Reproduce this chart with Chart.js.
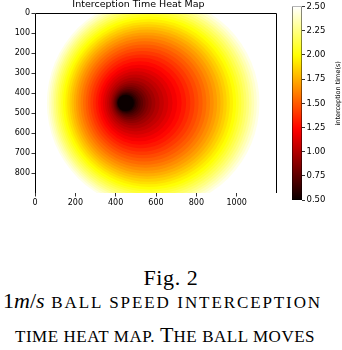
<!DOCTYPE html>
<html lang="en">
<head>
    <meta charset="UTF-8">
    <title>Interception Time Heat Map</title>
    <script src="https://cdn.jsdelivr.net/npm/chart.js"></script>
    <style>
        body { margin: 0; background: #fff; overflow: hidden; }
        #wrap { position: relative; width: 342px; height: 350px; }
        #heat { position: absolute; left: 0; top: 0; }
        #cbar { position: absolute; left: 285px; top: 0; }
        .cap { position: absolute; font-family: "Liberation Serif", serif; font-size: 22px; line-height: 22px;
               white-space: nowrap; color: #000; }
        .fig { left: 0; width: 342px; text-align: center; letter-spacing: 0.6px; }
        .sc { font-size: 17px; text-transform: uppercase; text-align: justify; text-align-last: justify; }
        .sc .big { font-size: 22px; letter-spacing: 0; }
    </style>
</head>
<body>
<div id="wrap">
    <canvas id="heat" width="342" height="210"></canvas>
    <canvas id="cbar" width="57" height="210"></canvas>
    <div class="cap fig" style="top:267px">Fig. 2</div>
    <div class="cap sc" style="top:290px; left:3px; width:319px; letter-spacing:1.9px"><span class="big">1<i style="text-transform:none">m</i>/<i style="text-transform:none">s</i></span> ball speed interception</div>
    <div class="cap sc" style="top:324px; left:15px; width:300px; letter-spacing:0.5px">time heat map. <span class="big">T</span>he ball moves</div>
</div>

<script>
    // contour levels (s), each one a circle: centre and radius in field units
    const times = [2.50, 2.45, 2.40, 2.35, 2.30, 2.25, 2.20, 2.15, 2.10, 2.05, 2.00,
                   1.95, 1.90, 1.85, 1.80, 1.75, 1.70, 1.65, 1.60, 1.55, 1.50,
                   1.45, 1.40, 1.35, 1.30, 1.25, 1.20, 1.15, 1.10, 1.05, 1.00,
                   0.95, 0.90, 0.85, 0.80, 0.75, 0.70, 0.65, 0.60, 0.55, 0.50];
    const centerX = [588, 586, 584, 582, 580, 578, 576, 574, 572, 570, 568,
                     566, 563, 561, 558, 556, 553, 550, 547, 544, 541,
                     537, 533, 529, 525, 520, 515, 509, 504, 498, 492,
                     486, 480, 475, 470, 466, 462, 458, 455, 452, 450];
    const centerY = [450, 450, 450, 450, 450, 450, 450, 450, 450, 450, 450,
                     450, 450, 450, 450, 450, 450, 450, 450, 450, 450,
                     450, 450, 450, 450, 450, 450, 450, 450, 450, 450,
                     450, 450, 450, 450, 450, 450, 450, 450, 450, 450];
    const radius = [538, 527, 516, 505, 494, 484, 473, 462, 451, 440, 429,
                    416, 403, 390, 377, 364, 350, 336, 321, 306, 290,
                    274, 258, 241, 224, 207, 190, 173, 157, 141, 126,
                    111, 99, 88, 79, 70, 62, 55, 49, 44, 40];
    const xTicks = [0, 200, 400, 600, 800, 1000];
    const yTicks = [0, 100, 200, 300, 400, 500, 600, 700, 800];
    const cbTicks = [0.5, 0.75, 1.0, 1.25, 1.5, 1.75, 2.0, 2.25, 2.5];

    // matplotlib 'hot', vmin 0.5 .. vmax 2.5
    function hot(v) {
        const f = Math.min(1, Math.max(0, (v - 0.5) / 2));
        const r = Math.min(1, 0.0416 + 0.9584 * f / 0.365079);
        const g = Math.min(1, Math.max(0, (f - 0.365079) / 0.380953));
        const b = Math.min(1, Math.max(0, (f - 0.746032) / 0.253968));
        return `rgb(${Math.round(r * 255)},${Math.round(g * 255)},${Math.round(b * 255)})`;
    }

    const font = { family: 'DejaVu Sans', size: 8 };

    const spines = {
        id: 'spines',
        afterDraw(chart) {
            const { ctx, chartArea: a } = chart;
            ctx.save();
            ctx.strokeStyle = '#000';
            ctx.lineWidth = 1;
            ctx.beginPath();
            ctx.moveTo(a.left + 0.5, a.bottom);
            ctx.lineTo(a.left + 0.5, a.top + 0.5);
            ctx.lineTo(a.right - 0.5, a.top + 0.5);
            ctx.lineTo(a.right - 0.5, a.bottom);
            ctx.stroke();
            ctx.restore();
        }
    };

    new Chart(document.getElementById('heat'), {
        type: 'scatter',
        data: {
            datasets: [{
                data: times.map((t, i) => ({ x: centerX[i], y: centerY[i], rad: radius[i] })),
                pointRadius: c => {
                    const xs = c.chart.scales.x;
                    return Math.abs(xs.getPixelForValue(c.raw.rad) - xs.getPixelForValue(0));
                },
                pointBackgroundColor: c => hot(times[c.dataIndex]),
                pointBorderWidth: 0,
                pointBorderColor: 'rgba(0,0,0,0)',
                clip: 0
            }]
        },
        options: {
            responsive: false,
            animation: false,
            events: [],
            layout: { padding: { top: 0, right: 65, bottom: 0, left: 0 } },
            plugins: {
                legend: { display: false },
                tooltip: { enabled: false },
                title: {
                    display: true,
                    text: 'Interception Time Heat Map',
                    color: '#000',
                    font: { family: 'DejaVu Sans', size: 9.5, weight: 'normal' },
                    padding: { top: -1.5, bottom: 3.1 }
                }
            },
            scales: {
                x: {
                    type: 'linear', min: 0, max: 1200,
                    afterBuildTicks: s => { s.ticks = xTicks.map(v => ({ value: v })); },
                    afterFit: s => { s.height = 17; },
                    border: { display: false },
                    grid: { drawOnChartArea: false, tickLength: 3.5, color: '#000', lineWidth: 0.8 },
                    ticks: { color: '#000', font, padding: 1.5, maxRotation: 0, callback: v => String(v) }
                },
                y: {
                    type: 'linear', min: 0, max: 900, reverse: true,
                    afterBuildTicks: s => { s.ticks = yTicks.map(v => ({ value: v })); },
                    afterFit: s => { s.width = 35; },
                    border: { display: false },
                    grid: { drawOnChartArea: false, tickLength: 3.5, color: '#000', lineWidth: 0.8 },
                    ticks: { color: '#000', font, padding: 1.5, callback: v => String(v) }
                }
            }
        },
        plugins: [spines]
    });

    const cbTitle = {
        id: 'cbTitle',
        afterDraw(chart) {
            const { ctx, chartArea: a } = chart;
            ctx.save();
            ctx.translate(53, (a.top + a.bottom) / 2 - 10);
            ctx.rotate(-Math.PI / 2);
            ctx.fillStyle = '#000';
            ctx.font = '6.5px "DejaVu Sans"';
            ctx.textAlign = 'center';
            ctx.textBaseline = 'middle';
            ctx.fillText('interception time(s)', 0, 0);
            ctx.restore();
        }
    };

    new Chart(document.getElementById('cbar'), {
        type: 'bar',
        data: {
            labels: ['cb'],
            datasets: [{
                data: [[cbTicks[0], cbTicks[cbTicks.length - 1]]],
                backgroundColor: c => {
                    const a = c.chart.chartArea;
                    if (!a) return '#000';
                    const ys = c.chart.scales.y;
                    const g = c.chart.ctx.createLinearGradient(0, ys.getPixelForValue(0.5), 0, ys.getPixelForValue(2.5));
                    for (let k = 0; k <= 40; k++) g.addColorStop(k / 40, hot(0.5 + 2 * k / 40));
                    return g;
                },
                borderColor: '#000',
                borderWidth: 0.8,
                borderSkipped: false,
                barPercentage: 1,
                categoryPercentage: 1
            }]
        },
        options: {
            responsive: false,
            animation: false,
            events: [],
            layout: { padding: { top: 5, right: 0, bottom: 10, left: 7 } },
            plugins: { legend: { display: false }, tooltip: { enabled: false } },
            scales: {
                x: { display: false },
                y: {
                    position: 'right', min: 0.5, max: 2.5,
                    afterBuildTicks: s => { s.ticks = cbTicks.map(v => ({ value: v })); },
                    afterFit: s => { s.width = 40; },
                    border: { display: false },
                    grid: { drawOnChartArea: false, tickLength: 3, color: '#000', lineWidth: 0.8 },
                    ticks: { color: '#000', font: { family: 'DejaVu Sans', size: 8.5 }, padding: 1.5,
                             callback: v => v.toFixed(2) }
                }
            }
        },
        plugins: [cbTitle]
    });
</script>
</body>
</html>
